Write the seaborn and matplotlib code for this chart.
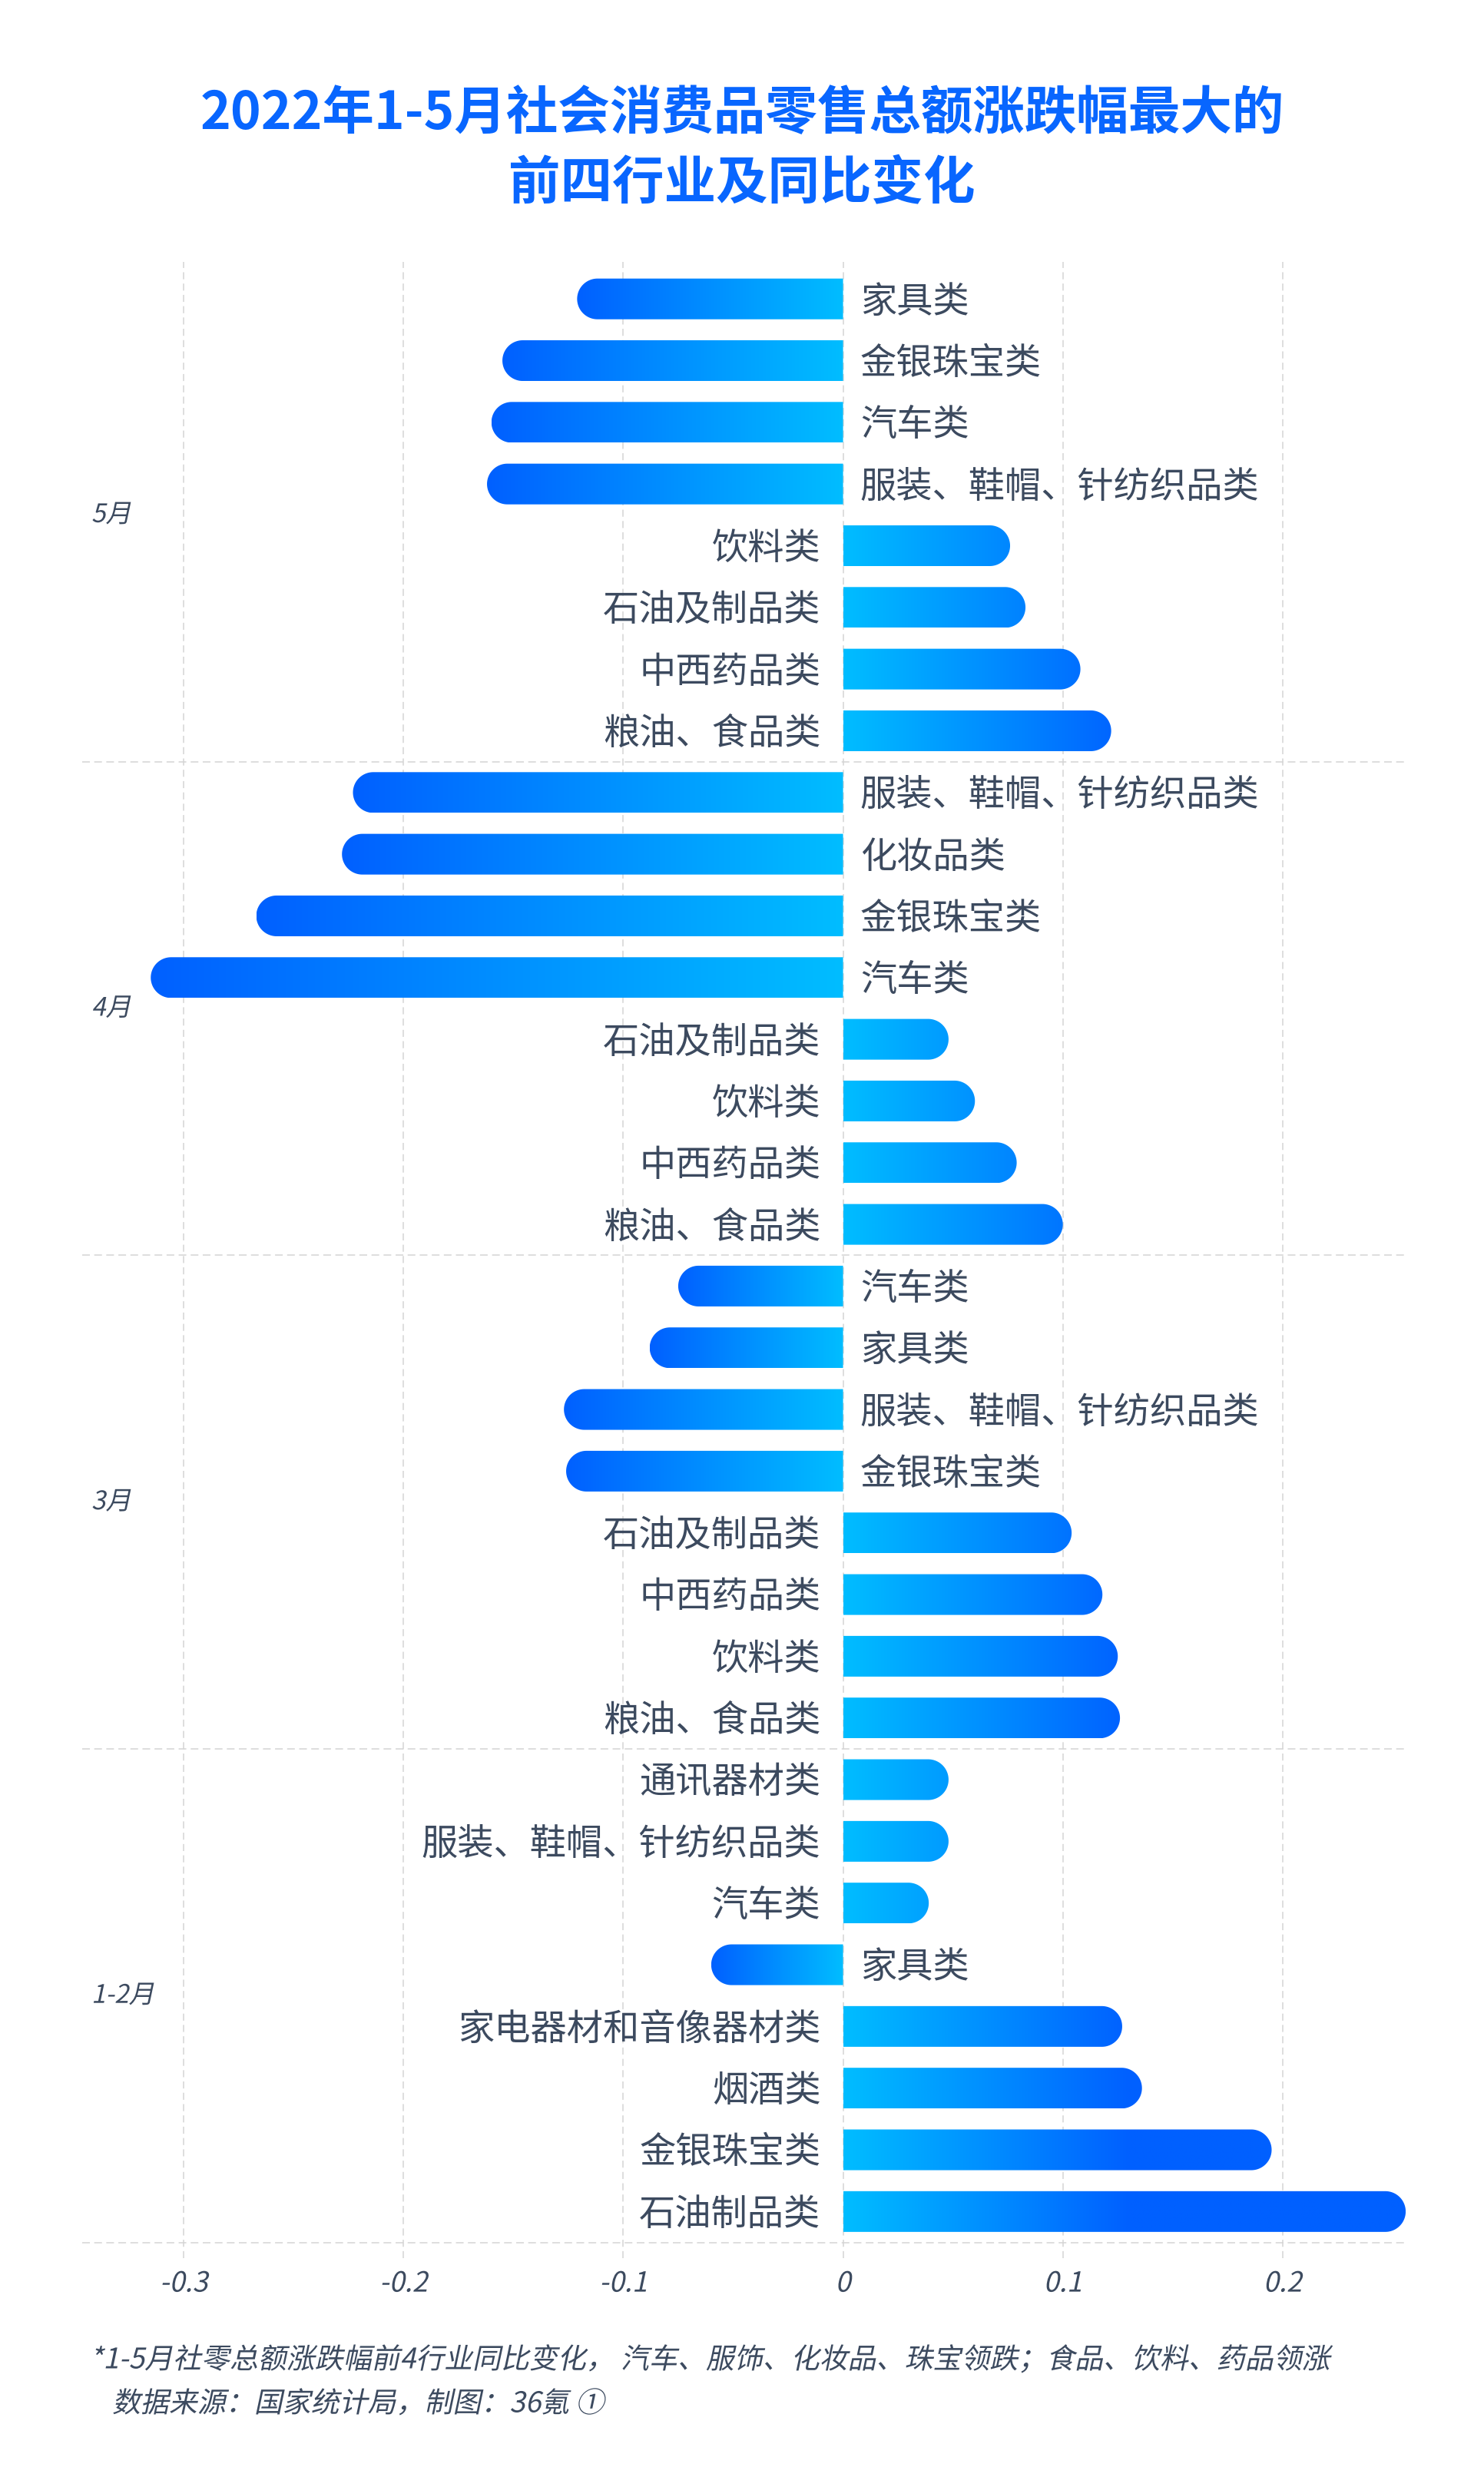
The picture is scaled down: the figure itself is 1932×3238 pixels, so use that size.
import numpy as np
import pandas as pd
import matplotlib
matplotlib.use('Agg')
import matplotlib.pyplot as plt
import seaborn as sns
from matplotlib import patheffects
from matplotlib.path import Path
from matplotlib.patches import PathPatch
from matplotlib.transforms import Affine2D, blended_transform_factory
from matplotlib.colors import to_rgb

# ---- data ----
months = ['5月', '4月', '3月', '1-2月']

may_cats = ['家具类', '金银珠宝类', '汽车类', '服装、鞋帽、针纺织品类',
            '饮料类', '石油及制品类', '中西药品类', '粮油、食品类']
may_vals = [-0.121, -0.155, -0.160, -0.162, 0.076, 0.083, 0.108, 0.122]

apr_cats = ['服装、鞋帽、针纺织品类', '化妆品类', '金银珠宝类', '汽车类',
            '石油及制品类', '饮料类', '中西药品类', '粮油、食品类']
apr_vals = [-0.223, -0.228, -0.267, -0.315, 0.048, 0.060, 0.079, 0.100]

mar_cats = ['汽车类', '家具类', '服装、鞋帽、针纺织品类', '金银珠宝类',
            '石油及制品类', '中西药品类', '饮料类', '粮油、食品类']
mar_vals = [-0.075, -0.088, -0.127, -0.126, 0.104, 0.118, 0.125, 0.126]

janfeb_cats = ['通讯器材类', '服装、鞋帽、针纺织品类', '汽车类', '家具类',
               '家电器材和音像器材类', '烟酒类', '金银珠宝类', '石油制品类']
janfeb_vals = [0.048, 0.048, 0.039, -0.060, 0.127, 0.136, 0.195, 0.256]

xticks = [-0.3, -0.2, -0.1, 0, 0.1, 0.2]
xtick_labels = ['-0.3', '-0.2', '-0.1', '0', '0.1', '0.2']

title_lines = ['2022年1-5月社会消费品零售总额涨跌幅最大的', '前四行业及同比变化']
note_lines = ['*1-5月社零总额涨跌幅前4行业同比变化， 汽车、服饰、化妆品、珠宝领跌；食品、饮料、药品领涨',
              '数据来源：国家统计局，制图：36氪 ①']

# ---- style ----
DEEP = '#0060FF'
CYAN = '#00BDFF'
TEXT = '#3c4a5f'
GRID = '#d4d4d4'
TITLE = '#0866FF'


class Skew(patheffects.AbstractPathEffect):
    """fake italic: lean the glyph outlines"""
    def __init__(self, deg=12):
        super().__init__()
        self._skew = Affine2D().skew_deg(deg, 0)

    def draw_path(self, renderer, gc, tpath, affine, rgbFace=None):
        renderer.draw_path(gc, tpath, self._skew + affine, rgbFace)


frames = []
for m, cats, vals in zip(months, [may_cats, apr_cats, mar_cats, janfeb_cats],
                         [may_vals, apr_vals, mar_vals, janfeb_vals]):
    frames.append(pd.DataFrame({'month': m, 'category': cats, 'value': vals}))
df = pd.concat(frames, ignore_index=True)
df['row'] = df['month'] + '|' + df['category']

sns.set_theme(style='white')
plt.rcParams['font.family'] = ['Noto Sans CJK SC', 'DejaVu Sans']
plt.rcParams['axes.unicode_minus'] = False
plt.rcParams['lines.scale_dashes'] = False

fig = plt.figure(figsize=(9.66, 16.19), dpi=200)
ax = fig.add_axes([0.05523, 0.09836, 0.8920, 0.79385])

sns.barplot(data=df, x='value', y='row', order=list(df['row']), orient='h',
            width=0.66, color=DEEP, errorbar=None, ax=ax)

xlim = (-0.3463, df['value'].max())
ylim = (len(df) - 0.5, -0.5)
ax.set_xlim(*xlim)
ax.set_ylim(*ylim)
for s in ax.spines.values():
    s.set_visible(False)
ax.set_yticks([])
ax.set_xlabel('')
ax.set_ylabel('')

# gradient bars with a rounded far end
p0 = ax.transData.transform((0, 0))
px_x = ax.transData.transform((1, 0))[0] - p0[0]
px_y = abs(ax.transData.transform((0, 1))[1] - p0[1])
deep = np.array(to_rgb(DEEP))
cyan = np.array(to_rgb(CYAN))

for patch in list(ax.patches):
    x0, w = patch.get_x(), patch.get_width()
    y0, h = patch.get_y(), patch.get_height()
    patch.set_visible(False)
    v = x0 + w
    lo, hi = min(x0, v), max(x0, v)
    yc, ry = y0 + h / 2, abs(h) / 2
    rx = ry * px_y / px_x
    sign = 1 if v > 0 else -1
    cx = v - sign * rx
    t = np.linspace(-np.pi / 2, np.pi / 2, 60)
    arc = np.column_stack([cx + sign * rx * np.cos(t), yc + ry * np.sin(t)])
    verts = np.vstack([[0, yc - ry], arc, [0, yc + ry], [0, yc - ry]])
    clip = PathPatch(Path(verts, closed=True), transform=ax.transData,
                     facecolor='none', edgecolor='none')

    xs = np.linspace(lo, hi, 256)
    if v < 0:
        tt = (xs - lo) / (hi - lo)
        cols = deep + (cyan - deep) * tt[:, None]
    else:
        tt = np.clip(xs / 0.13, 0, 1)
        cols = cyan + (deep - cyan) * tt[:, None]
    im = ax.imshow(cols[None, :, :], extent=(lo, hi, yc + ry, yc - ry),
                   aspect='auto', interpolation='bilinear', zorder=2)
    im.set_clip_path(clip)

ax.set_xlim(*xlim)
ax.set_ylim(*ylim)

# category labels next to the zero line
for i, r in df.iterrows():
    if r['value'] < 0:
        ax.annotate(r['category'], xy=(0, i), xytext=(8, -1.5), textcoords='offset points',
                    ha='left', va='center', fontsize=17, color=TEXT, zorder=3)
    else:
        ax.annotate(r['category'], xy=(0, i), xytext=(-10.5, -1.5), textcoords='offset points',
                    ha='right', va='center', fontsize=17, color=TEXT, zorder=3)

# grid: dashed verticals at ticks, dashed separators between months
for xt in xticks:
    ax.axvline(xt, ymin=-0.008, ymax=1.003, color=GRID, lw=0.55,
               ls=(0, (3.3, 2.0)), clip_on=False, zorder=1)
sizes = df.groupby('month', sort=False).size().values
bounds = np.cumsum(sizes) - 0.5
for b in bounds:
    ax.axhline(b, color=GRID, lw=0.55, ls=(0, (3.6, 2.05)), clip_on=False, zorder=1)

# month labels
blend = blended_transform_factory(ax.transAxes, ax.transData)
starts = np.concatenate([[0], np.cumsum(sizes)[:-1]])
for m, s0, n in zip(months, starts, sizes):
    ax.text(0.0071, s0 + (n - 1) / 2, m, transform=blend, ha='left', va='center',
            fontsize=12, color=TEXT, path_effects=[Skew()])

ax.set_xticks(xticks)
ax.set_xticklabels(xtick_labels)
ax.tick_params(axis='x', length=0, pad=13, labelsize=13, labelcolor=TEXT)
for lbl in ax.get_xticklabels():
    lbl.set_path_effects([Skew()])

# title and notes
fig.text(0.5, 0.9541, title_lines[0], ha='center', va='center', fontsize=24.3,
         fontweight='bold', color=TITLE)
fig.text(0.5, 0.9263, title_lines[1], ha='center', va='center', fontsize=24.3,
         fontweight='bold', color=TITLE)
fig.text(117 / 1932, 0.05096, note_lines[0], ha='left', va='center', fontsize=13.3,
         color=TEXT, path_effects=[Skew()])
fig.text(146 / 1932, 0.03335, note_lines[1], ha='left', va='center', fontsize=13.3,
         color=TEXT, path_effects=[Skew()])

fig.savefig('out.png', dpi=200, facecolor='white')
